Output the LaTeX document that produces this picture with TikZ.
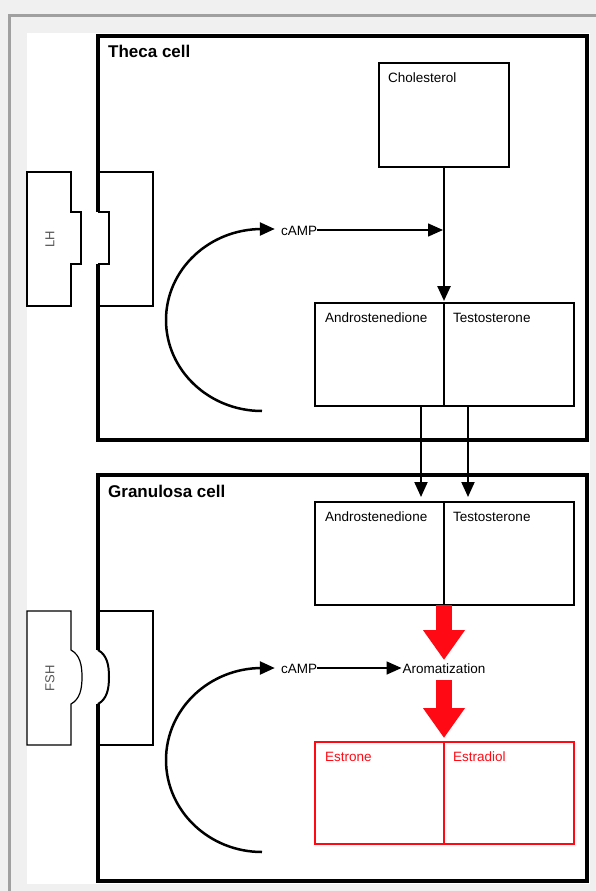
\documentclass[tikz,border=0pt]{standalone}
\usepackage{fontspec}
\setmainfont{Liberation Sans}
\usetikzlibrary{arrows.meta}
\definecolor{framegray}{HTML}{F0F0F0}
\definecolor{edgegray}{HTML}{A0A0A0}
\definecolor{hormonegray}{HTML}{555555}
\definecolor{estred}{HTML}{FF0A14}
\begin{document}
\begin{tikzpicture}[x=1pt,y=-1pt,
  wall/.style={line width=3.5pt, line join=miter},
  thinline/.style={line width=1.2pt},
  box/.style={draw, line width=1.6pt, inner sep=0pt, outer sep=0pt, anchor=north west},
  redbox/.style={draw=estred, line width=1.4pt, inner sep=0pt, outer sep=0pt, anchor=north west},
  lbl/.style={anchor=base west, inner sep=0pt, font=\fontsize{13.5}{16}\selectfont},
  redlbl/.style={lbl, text=estred},
  ctext/.style={inner sep=0pt, anchor=base, font=\fontsize{13.5}{16}\selectfont},
  title/.style={anchor=base west, inner sep=0pt, font=\bfseries\fontsize{17}{20}\selectfont},
  hormone/.style={rotate=90, inner sep=0pt, text=hormonegray, font=\fontsize{13}{15}\selectfont},
  arr/.style={-{Triangle[length=15pt,width=13pt]}},
  bigred/.style={draw=estred, line width=16pt, -{Triangle[length=30pt,width=40pt]}},
]
\useasboundingbox (0,0) rectangle (596,891);
% window frame
\fill[framegray] (0,0) rectangle (596,891);
\draw[edgegray, line width=2.5pt] (9.5,891) -- (9.5,15.5) -- (596,15.5);
\fill[white] (27,33) rectangle (590,884);

% theca cell wall with LH receptor notch
\draw[wall] (98,212) -- (98,36) -- (587,36) -- (587,440) -- (98,440) -- (98,264);
\draw[line width=2pt] (98,264) -- (109,264) -- (109,212) -- (98,212);
\draw[thinline] (98,172) -- (153,172) -- (153,306) -- (98,306);
\draw[thinline] (27,172) -- (71,172) -- (71,212) -- (81,212) -- (81,264) -- (71,264) -- (71,306) -- (27,306) -- cycle;
\node[hormone] (lh) at (50,239) {LH};

% granulosa cell wall with FSH receptor
\draw[wall] (98,650) -- (98,475) -- (587,475) -- (587,881) -- (98,881) -- (98,704);
\draw[line width=2pt] (98,650) .. controls (107,655) and (109,665) .. (109,677) .. controls (109,689) and (107,699) .. (98,704);
\draw[thinline] (98,611) -- (153,611) -- (153,745) -- (98,745);
\draw[thinline] (27,611) -- (71,611) -- (71,650) .. controls (80,655) and (82,665) .. (82,677) .. controls (82,689) and (80,699) .. (71,704) -- (71,745) -- (27,745) -- cycle;
\node[hormone] (fsh) at (50,678) {FSH};

% titles
\node[title] (theca) at (108,58) {Theca cell};
\node[title] (gran) at (108,497) {Granulosa cell};

% boxes
\node[box, minimum width=130pt, minimum height=104pt] (chol) at (379,63) {};
\node[lbl] (choltxt) at (388,82) {Cholesterol};
\node[box, minimum width=129pt, minimum height=103pt] (tand) at (315,303) {};
\node[box, minimum width=130pt, minimum height=103pt] (ttes) at (444,303) {};
\node[lbl] (tandtxt) at (325,322) {Androstenedione};
\node[lbl] (ttestxt) at (453,322) {Testosterone};
\node[box, minimum width=129pt, minimum height=103pt] (gand) at (315,502) {};
\node[box, minimum width=130pt, minimum height=103pt] (gtes) at (444,502) {};
\node[lbl] (gandtxt) at (325,521) {Androstenedione};
\node[lbl] (gtestxt) at (453,521) {Testosterone};
\node[redbox, minimum width=129pt, minimum height=102pt] (estrone) at (315,742) {};
\node[redbox, minimum width=130pt, minimum height=102pt] (estradiol) at (444,742) {};
\node[redlbl] (estronetxt) at (325,761) {Estrone};
\node[redlbl] (estradioltxt) at (453,761) {Estradiol};

% cAMP and aromatization (same baseline in each row)
\node[ctext] (camp1) at (299,235) {cAMP};
\node[ctext] (camp2) at (299,673) {cAMP};
\node[ctext] (arom) at (444,673) {Aromatization};
\coordinate (hit) at (443,230);
\coordinate (arc1top) at (262,229);
\coordinate (arc2top) at (262,668);

% theca arrows
\draw[line width=2.5pt, arr] (262,411) arc[start angle=270, end angle=90, x radius=96pt, y radius=91pt] -- ([xshift=-6pt]arc1top -| camp1.west);
\draw[line width=1.5pt, arr] (camp1.east |- hit) -- (hit);
\draw[line width=2.5pt, arr, shorten >=2pt] (chol.south) -- (tand.north east);
\draw[line width=2pt, arr, shorten >=5pt] ([xshift=-23pt]tand.south east) -- ([xshift=-23pt]gand.north east);
\draw[line width=2pt, arr, shorten >=5pt] ([xshift=24pt]ttes.south west) -- ([xshift=24pt]gtes.north west);

% granulosa arrows
\draw[line width=2.5pt, arr] (262,852) arc[start angle=270, end angle=90, x radius=96pt, y radius=92pt] -- ([xshift=-6pt]arc2top -| camp2.west);
\draw[line width=1.5pt, arr, shorten >=1pt] (arc2top -| camp2.east) -- (arc2top -| arom.west);
\draw[bigred, shorten >=3pt] (gand.south east) -- (gand.south east |- arom.north);
\draw[bigred, shorten <=7pt, shorten >=4pt] (estrone.north east |- arom.south) -- (estrone.north east);
\end{tikzpicture}
\end{document}
